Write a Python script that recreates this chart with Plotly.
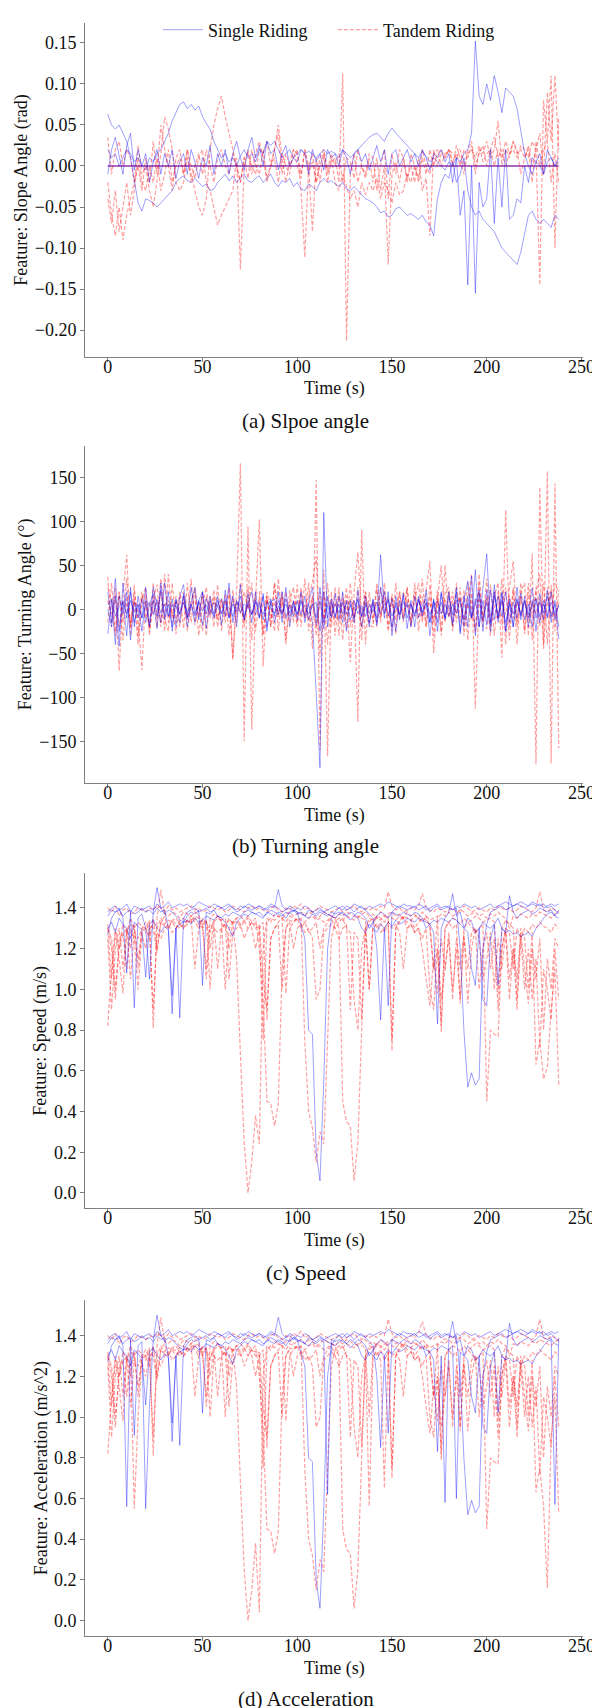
import plotly.graph_objects as go

# ---------------- data ----------------
T = list(range(0, 240, 2))          # time grid (s)
X_TICKS = [0, 50, 100, 150, 200, 250]

# (a) slope angle (rad)
SLOPE_SINGLE = [
    [0.063, 0.05, 0.045, 0.05, 0.04, 0.03, 0.01, -0.02, -0.045, -0.055,
     -0.04, -0.042, -0.045, -0.05, -0.045, -0.04, -0.035, -0.03, -0.02, -0.015,
     -0.012, -0.018, -0.02, -0.015, -0.02, -0.025, -0.022, -0.03, -0.028, -0.02,
     -0.015, -0.01, -0.018, -0.012, -0.02, -0.015, -0.01, -0.018, -0.02, -0.015,
     -0.012, -0.02, -0.015, -0.01, -0.02, -0.025, -0.018, -0.02, -0.015, -0.025,
     -0.02, -0.028, -0.03, -0.022, -0.025, -0.03, -0.02, -0.015, -0.02, -0.018,
     -0.022, -0.025, -0.02, -0.028, -0.03, -0.025, -0.03, -0.035, -0.04, -0.042,
     -0.045, -0.05, -0.057, -0.055, -0.062, -0.06, -0.052, -0.05, -0.055, -0.06,
     -0.058, -0.062, -0.065, -0.06, -0.068, -0.072, -0.085, -0.04, -0.02, -0.01,
     -0.015, 0.005, -0.02, -0.01, 0.01, -0.03, -0.05, -0.06, -0.055, -0.065,
     -0.07, -0.075, -0.08, -0.09, -0.1, -0.105, -0.11, -0.115, -0.12, -0.105,
     -0.08, -0.06, -0.055, -0.065, -0.07, -0.065, -0.07, -0.075, -0.06, -0.065],
    [0.02, 0.01, 0.015, 0.0, 0.01, 0.02, 0.015, 0.005, 0.01, 0.0,
     -0.005, 0.01, 0.005, 0.015, 0.02, 0.03, 0.04, 0.055, 0.065, 0.075,
     0.078, 0.07, 0.075, 0.068, 0.073, 0.06, 0.052, 0.045, 0.03, 0.02,
     0.01, 0.015, 0.005, 0.01, 0.0, 0.012, 0.02, 0.01, 0.015, 0.005,
     0.02, 0.015, 0.03, 0.025, 0.03, 0.02, 0.01, 0.015, 0.02, 0.01,
     0.015, 0.02, 0.015, 0.018, 0.015, 0.01, 0.015, 0.02, 0.015, 0.018,
     0.015, 0.01, 0.02, 0.015, 0.01, 0.015, 0.02, 0.025, 0.03, 0.035,
     0.038, 0.04, 0.035, 0.03, 0.04, 0.046, 0.04, 0.035, 0.03, 0.025,
     0.02, 0.015, 0.01, 0.018, 0.012, 0.005, 0.01, 0.005, 0.0, -0.005,
     0.005, 0.0, 0.01, 0.005, 0.015, 0.02, 0.04, 0.152, 0.085, 0.075,
     0.1, 0.08, 0.11, 0.09, 0.065, 0.095, 0.09, 0.085, 0.07, 0.04,
     0.015, 0.0, -0.01, 0.005, 0.0, -0.01, 0.005, 0.01, 0.0, 0.005],
    [-0.01, 0.02, 0.035, 0.01, -0.01, 0.025, 0.04, -0.005, 0.02, 0.0,
     0.015, -0.02, 0.005, 0.02, -0.01, 0.015, 0.0, 0.02, -0.015, 0.005,
     0.015, -0.01, 0.02, 0.005, -0.015, 0.01, 0.0, 0.025, -0.01, 0.015,
     0.0, 0.02, -0.01, 0.015, 0.03, 0.01, -0.005, 0.02, 0.035, 0.01,
     0.025, 0.0, 0.03, 0.015, 0.02, -0.005, 0.015, 0.025, 0.0, 0.01,
     0.005, 0.02, 0.015, -0.01, 0.02, 0.005, 0.015, -0.005, 0.02, 0.01,
     0.015, 0.0, 0.02, 0.01, -0.01, 0.015, 0.02, 0.005, 0.015, -0.005,
     0.01, 0.025, 0.005, 0.02, -0.01, 0.015, 0.02, 0.0, 0.01, 0.02,
     0.005, 0.015, 0.0, 0.02, 0.01, -0.005, 0.015, 0.01, 0.02, 0.005,
     0.015, -0.02, 0.01, -0.06, -0.03, -0.145, 0.0, -0.155, -0.02, -0.05,
     -0.04, 0.02, -0.07, 0.01, -0.05, 0.02, -0.065, -0.06, -0.04, -0.045,
     0.0, -0.02, 0.01, 0.005, 0.015, -0.01, 0.02, 0.01, 0.0, 0.01],
]
SLOPE_TANDEM = [
    [-0.02, -0.06, -0.085, -0.05, -0.09, -0.06, -0.04, -0.02, 0.0, -0.03,
     0.01, -0.02, 0.03, -0.01, 0.05, 0.02, 0.0, -0.03, 0.01, 0.02,
     -0.01, 0.02, 0.0, -0.015, 0.01, 0.02, -0.02, -0.03, -0.05, -0.072,
     -0.06, -0.05, -0.04, -0.03, 0.01, -0.126, 0.0, 0.02, -0.01, 0.015,
     0.03, 0.01, -0.02, 0.0, 0.02, 0.04, -0.01, 0.015, 0.0, 0.01,
     0.02, -0.03, -0.111, 0.0, -0.08, 0.01, -0.02, 0.015, -0.01, 0.005,
     0.01, -0.02, 0.113, -0.213, -0.01, 0.015, -0.02, 0.0, -0.015, 0.01,
     -0.02, 0.01, -0.03, 0.0, -0.12, -0.01, 0.005, -0.02, 0.01, -0.015,
     0.0, -0.02, 0.01, -0.03, -0.015, -0.085, 0.02, 0.0, 0.015, 0.01,
     0.02, 0.005, 0.015, 0.0, 0.02, 0.01, 0.025, -0.01, 0.02, 0.015,
     0.03, 0.01, 0.02, 0.055, 0.0, 0.02, 0.01, 0.03, 0.015, 0.02,
     0.01, 0.025, 0.0, 0.02, -0.145, 0.08, 0.03, 0.11, -0.1, 0.06],
    [0.035, -0.01, 0.02, 0.03, 0.0, 0.02, 0.01, -0.02, 0.025, -0.01,
     0.0, -0.03, -0.05, -0.02, 0.015, 0.06, 0.045, 0.02, -0.02, -0.03,
     -0.02, 0.01, -0.01, -0.03, -0.05, -0.06, -0.04, 0.02, 0.05, 0.07,
     0.085, 0.06, 0.04, 0.02, 0.0, -0.02, 0.01, 0.015, 0.0, -0.01,
     0.02, 0.015, 0.03, 0.0, 0.02, 0.05, 0.01, -0.02, 0.005, 0.02,
     0.015, -0.01, 0.02, 0.0, 0.015, -0.02, 0.01, 0.02, -0.005, 0.015,
     0.0, 0.015, -0.02, 0.01, 0.005, -0.015, 0.02, 0.0, -0.01, 0.015,
     0.01, -0.03, 0.0, 0.02, -0.04, 0.015, -0.01, 0.02, 0.01, -0.02,
     0.015, 0.0, -0.02, 0.01, -0.01, 0.02, 0.0, 0.015, 0.02, 0.01,
     0.02, 0.015, 0.01, 0.02, 0.0, 0.015, 0.02, 0.01, 0.025, 0.005,
     0.015, 0.02, 0.0, 0.02, 0.01, 0.03, 0.015, 0.02, 0.01, 0.025,
     0.02, 0.01, 0.03, 0.02, 0.04, -0.01, 0.09, 0.03, 0.11, 0.02],
    [-0.04, -0.07, -0.03, -0.08, -0.05, -0.02, -0.06, -0.03, 0.01, -0.02,
     -0.03, 0.0, -0.02, 0.01, -0.03, -0.01, 0.02, -0.02, 0.0, 0.01,
     -0.01, 0.02, -0.02, 0.0, 0.015, -0.01, 0.02, 0.0, -0.02, 0.01,
     0.02, 0.0, -0.01, 0.015, 0.0, -0.02, 0.01, -0.015, 0.02, 0.0,
     -0.01, 0.02, -0.015, 0.0, 0.01, -0.02, 0.015, 0.0, -0.01, 0.02,
     0.0, -0.015, 0.02, -0.01, 0.005, -0.02, 0.0, 0.015, -0.02, 0.01,
     -0.02, -0.03, -0.01, -0.025, -0.04, -0.03, -0.05, -0.02, -0.035, -0.02,
     -0.03, -0.015, -0.04, -0.02, -0.03, -0.045, -0.02, -0.035, -0.03, -0.01,
     -0.02, 0.0, -0.015, 0.02, 0.0, -0.01, 0.015, 0.02, 0.0, 0.015,
     0.02, 0.0, 0.025, 0.01, -0.01, 0.02, 0.03, 0.0, 0.015, 0.025,
     0.0, 0.02, 0.035, 0.01, 0.02, 0.0, 0.015, 0.03, 0.02, -0.01,
     0.01, 0.02, -0.02, 0.03, 0.0, 0.02, 0.03, -0.02, 0.015, -0.02],
]
ZERO_T = [0, 238]
ZERO_V = [0.0, 0.0]

# (b) turning angle (deg)
TURN_SINGLE = [
    [-28, 10, -40, 15, -5, 20, -35, 8, -10, 12,
     -15, 5, 18, -8, 22, -12, 6, -20, 10, -5,
     15, -10, 25, -5, 8, -18, 12, 0, -8, 10,
     -5, 12, -10, 6, -3, 15, -8, 5, 20, -6,
     8, -12, 5, 10, -15, 4, -6, 12, -4, 8,
     -5, 10, -8, 6, -15, -95, -180, 110, -20, 8,
     -10, 15, -5, 8, -12, 4, 10, -8, 5, -15,
     6, -10, 62, -5, 12, -20, 8, -6, 15, -10,
     5, -8, 12, -4, 6, -15, 10, -5, 8, -12,
     15, -6, 20, -25, 10, 32, -8, 12, -20, 25,
     63, -15, 20, -10, 18, -25, 8, -5, 12, -8,
     10, -6, 24, -10, 8, -4, 15, -8, 6, -34],
    [0, -20, 15, -42, 30, -10, 20, -15, 5, -25,
     10, -20, 25, 5, -15, 30, -8, 12, -20, 15,
     28, -10, 5, -15, 10, 20, -5, 15, -10, 5,
     12, -8, 30, -15, 8, 5, -12, 18, -6, 10,
     -10, 15, -20, 8, 12, -6, 20, -10, 5, -8,
     10, -6, 15, -12, 5, 8, -25, 20, -10, 12,
     -8, 6, -15, 10, 5, -10, 12, -20, 8, -5,
     10, -15, 5, 20, -8, 12, -25, 10, -12, 8,
     -20, 15, -10, 5, 12, -30, 8, -15, 20, -10,
     5, -18, 10, 8, -12, 15, -10, 45, -20, 10,
     -18, 22, -12, 15, -8, 20, -15, 8, -10, 18,
     -12, 6, -20, 12, -15, 10, -8, 20, -12, 5],
    [5, 12, -8, 3, 8, -5, 10, -3, 6, -10,
     4, 8, -6, 10, -4, 6, -8, 5, 3, -6,
     8, -4, 6, -8, 10, -2, 5, -6, 8, 3,
     -5, 6, 2, -8, 10, -4, 6, 3, -6, 8,
     4, -6, 8, 2, -5, 10, -3, 6, -8, 4,
     -6, 8, 3, -5, 6, -10, 25, -15, 5, -8,
     6, -4, 8, -6, 3, 10, -5, 4, -8, 6,
     -3, 8, -5, 6, 10, -8, 4, -6, 8, 3,
     6, -5, 10, -3, 8, -6, 4, 9, -5, 6,
     -8, 6, -5, 12, -20, 8, -10, 6, 22, -12,
     8, -25, 15, -8, 10, -15, 6, -20, 10, -6,
     8, -10, 5, 12, -8, 6, -10, 8, -5, 4],
    [20, -15, 35, -25, 10, -30, 25, -20, 15, -10,
     25, -18, 10, -22, 30, -8, 20, -25, 12, -15,
     18, -20, 8, 25, -12, 20, -22, 10, -5, 15,
     -18, 22, -10, 15, -20, 28, -12, 8, -15, 20,
     -10, 18, -25, 12, -8, 20, -15, 25, -20, 10,
     -12, 20, -15, 8, 25, -18, 10, -22, 15, -10,
     18, -12, 20, -25, 10, -15, 22, -8, 15, -20,
     12, -18, 25, -10, 20, -30, 15, -12, 18, -22,
     10, -20, 15, -8, 22, -15, 12, -25, 18, -10,
     20, -15, 25, -28, 15, -20, 38, -30, 18, -25,
     22, -18, 28, -15, 20, -25, 12, -20, 25, -12,
     15, -20, 10, -25, 18, -12, 22, -15, 10, -20],
]
TURN_TANDEM = [
    [37, -20, 25, -70, 15, 62, -30, 20, -10, -69,
     18, -25, 10, 28, -20, 40, -15, 5, -28, 12,
     20, -10, 35, -18, 8, -25, 15, -5, 22, -10,
     12, -8, 25, -55, 20, 166, -150, 94, -137, 10,
     102, -65, 15, -20, 30, -10, 20, -40, 8, 25,
     -15, 20, -10, 30, -45, 147, -160, 45, -167, 20,
     -30, 15, -10, 25, -20, 10, -128, 90, -40, 20,
     -15, 30, -10, 20, -25, 15, -5, 20, -10, 25,
     -20, 10, 30, -15, 20, 55, -50, 15, -25, 50,
     -10, 20, -15, 25, -30, 10, 40, -113, 20, -15,
     35, -20, 15, 30, -55, 113, -20, 25, -40, 20,
     30, -30, 63, -176, 139, -40, 157, -175, 143, -158],
    [25, 10, -30, 20, -15, 35, -20, 10, -40, 15,
     5, -20, 30, -10, 20, -25, 40, -15, 10, -20,
     15, -25, 10, 20, -30, 5, 25, -10, 15, -20,
     10, -15, 20, -58, 10, -5, 20, 0, 30, -25,
     15, -30, 20, 5, -25, 35, -10, 20, -15, 10,
     -20, 25, -10, 15, 30, 60, -55, 20, -40, 10,
     -15, 25, -35, 15, -60, 20, 65, -10, 20, -15,
     10, -20, 25, -5, 15, -25, 30, -10, 20, 5,
     -15, 20, -10, 35, -20, 15, -30, 10, 50, -15,
     20, -25, 15, 10, -20, 30, 5, -25, 40, -10,
     15, -30, 20, -10, 35, -40, 25, 55, -20, 15,
     -25, 30, -10, 20, 40, -45, 25, -10, 30, 20],
    [10, -5, 15, -20, 8, 5, -15, 12, -8, 20,
     -10, 8, -5, 12, -15, 5, 10, -8, 15, -5,
     8, -12, 5, 10, -6, 15, -10, 5, 8, -12,
     5, 10, -8, 12, -5, 8, -15, 10, -6, 12,
     -8, 5, 12, -10, 8, -5, 10, -12, 6, -4,
     10, -8, 5, -12, 15, -20, 8, -10, 12, -5,
     8, -15, 10, -5, 12, -8, 5, -20, 10, 6,
     -10, 8, -5, 12, -8, 10, -12, 6, -5, 10,
     5, -8, 12, -10, 6, 8, -15, 10, -5, 12,
     -8, 10, -5, 15, -10, 6, -12, 8, 10, -15,
     12, -8, 5, -12, 10, -6, 15, -10, 8, -5,
     10, -12, 8, -5, 12, -15, 6, 20, -10, 8],
    [-15, 30, -25, 20, -35, 15, -20, 28, -30, 10,
     25, -30, 15, -20, 35, -10, -25, 30, -15, 20,
     -22, 30, -15, 25, -10, 20, -30, 15, -20, 28,
     -25, 18, -30, 22, -15, 30, -20, 25, -35, 18,
     20, -28, 15, -20, 30, -25, 18, -35, 22, -15,
     28, -20, 35, -25, 15, -30, 20, -15, 30, -20,
     25, -30, 18, -22, 30, -15, 25, -35, 20, -18,
     -20, 25, -15, 30, -22, 18, -28, 20, -15, 25,
     -18, 30, -25, 15, -20, 28, -15, 22, -30, 18,
     25, -20, 30, -15, 22, -35, 18, -25, 30, -20,
     -22, 28, -30, 20, -18, 25, -35, 22, -15, 30,
     -28, 20, -35, 25, -20, 30, -40, 28, -25, 22],
]

# (c) speed (m/s)
SPEED_SINGLE = [
    [1.38, 1.40, 1.41, 1.39, 1.40, 1.42, 1.38, 1.41, 1.40, 1.39,
     1.40, 1.41, 1.39, 1.42, 1.40, 1.41, 1.43, 1.40, 1.41, 1.42,
     1.41, 1.42, 1.40, 1.41, 1.43, 1.42, 1.41, 1.40, 1.42, 1.41,
     1.40, 1.41, 1.42, 1.40, 1.39, 1.41, 1.40, 1.42, 1.41, 1.40,
     1.41, 1.39, 1.40, 1.42, 1.41, 1.40, 1.38, 1.39, 1.41, 1.40,
     1.38, 1.32, 1.25, 0.80, 0.78, 0.20, 0.06, 0.55, 1.20, 1.35,
     1.38, 1.40, 1.41, 1.39, 1.40, 1.42, 1.41, 1.40, 1.39, 1.41,
     1.40, 1.41, 1.42, 1.41, 1.43, 1.42, 1.41, 1.40, 1.42, 1.41,
     1.41, 1.40, 1.42, 1.41, 1.39, 1.40, 1.41, 1.42, 1.40, 1.41,
     1.40, 1.39, 1.41, 1.40, 1.42, 1.41, 1.40, 1.41, 1.39, 1.40,
     1.41, 1.42, 1.40, 1.41, 1.42, 1.43, 1.42, 1.41, 1.42, 1.43,
     1.42, 1.41, 1.43, 1.42, 1.41, 1.42, 1.40, 1.41, 1.39, 1.37],
    [1.27, 1.35, 1.38, 1.39, 1.36, 1.38, 1.39, 1.37, 1.38, 1.40,
     1.38, 1.39, 1.37, 1.40, 1.38, 1.39, 1.30, 0.88, 1.30, 0.86,
     1.35, 1.38, 1.39, 1.40, 1.38, 1.39, 1.40, 1.38, 1.39, 1.41,
     1.40, 1.39, 1.41, 1.40, 1.38, 1.39, 1.41, 1.40, 1.39, 1.40,
     1.41, 1.40, 1.39, 1.41, 1.40, 1.49, 1.41, 1.39, 1.40, 1.38,
     1.40, 1.39, 1.41, 1.40, 1.38, 1.39, 1.40, 1.38, 1.39, 1.40,
     1.41, 1.40, 1.39, 1.41, 1.40, 1.38, 1.40, 1.41, 1.39, 1.37,
     1.35, 1.20, 0.85, 1.30, 0.92, 1.38, 1.40, 1.41, 1.40, 1.39,
     1.40, 1.41, 1.39, 1.40, 1.41, 1.38, 1.40, 1.41, 1.39, 1.40,
     1.41, 1.39, 1.40, 1.20, 0.79, 0.52, 0.59, 0.53, 0.56, 1.20,
     1.32, 1.38, 1.39, 1.40, 1.41, 1.39, 1.40, 1.41, 1.42, 1.41,
     1.40, 1.41, 1.42, 1.41, 1.42, 1.40, 1.41, 1.42, 1.41, 1.42],
    [1.36, 1.39, 1.38, 1.40, 1.35, 1.08, 1.38, 0.91, 1.35, 1.37,
     1.30, 1.05, 1.38, 1.50, 1.40, 1.37, 1.39, 1.38, 1.36, 1.34,
     1.33, 1.36, 1.38, 1.37, 1.39, 1.02, 1.38, 1.37, 1.39, 1.36,
     1.35, 1.33, 1.30, 1.26, 1.33, 1.35, 1.37, 1.36, 1.38, 1.37,
     1.36, 1.35, 1.38, 1.37, 1.36, 1.38, 1.37, 1.35, 1.38, 1.39,
     1.37, 1.38, 1.36, 1.39, 1.38, 1.37, 1.39, 1.38, 1.37, 1.36,
     1.35, 1.37, 1.38, 1.36, 1.34, 1.36, 1.38, 1.37, 1.35, 1.30,
     1.33, 1.36, 1.38, 1.37, 1.35, 1.38, 1.37, 1.36, 1.38, 1.37,
     1.36, 1.38, 1.37, 1.35, 1.30, 1.32, 1.28, 0.83, 1.30, 1.35,
     1.38, 1.47, 1.36, 1.38, 1.30, 1.35, 1.33, 1.28, 1.30, 0.95,
     0.92, 1.25, 1.32, 1.35, 1.30, 1.28, 1.46, 1.38, 1.35, 1.37,
     1.38, 1.39, 1.37, 1.38, 1.40, 1.39, 1.38, 1.39, 1.36, 1.39],
    [1.30, 1.33, 1.28, 1.35, 1.32, 1.30, 1.25, 1.33, 1.31, 1.29,
     1.06, 1.32, 1.34, 1.30, 1.28, 1.31, 1.29, 0.97, 1.30, 1.32,
     1.33, 1.34, 1.32, 1.35, 1.33, 1.34, 1.36, 1.35, 1.34, 1.36,
     1.35, 1.37, 1.36, 1.38, 1.37, 1.36, 1.38, 1.39, 1.38, 1.37,
     1.38, 1.36, 1.37, 1.39, 1.38, 1.37, 1.36, 1.38, 1.37, 1.39,
     1.38, 1.37, 1.36, 1.35, 1.37, 1.36, 1.38, 1.37, 1.36, 1.38,
     1.37, 1.38, 1.37, 1.36, 1.38, 1.37, 1.35, 1.30, 1.28, 1.32,
     1.30, 1.28, 1.32, 1.30, 1.33, 1.31, 1.34, 1.32, 1.33, 1.35,
     1.34, 1.33, 1.35, 1.34, 1.33, 1.32, 1.34, 1.33, 1.35, 1.34,
     1.33, 1.35, 1.34, 1.32, 1.30, 1.28, 1.10, 1.02, 1.30, 1.33,
     1.31, 1.30, 1.32, 1.02, 1.30, 1.28, 1.29, 1.27, 1.28, 1.26,
     1.27, 1.28, 1.26, 1.30, 1.32, 1.35, 1.37, 1.38, 1.36, 1.35],
]
SPEED_TANDEM = [
    [0.82, 1.10, 1.30, 1.20, 1.32, 1.28, 1.35, 1.30, 1.33, 1.31,
     1.30, 1.34, 0.81, 1.35, 1.49, 1.37, 1.36, 1.38, 1.37, 1.35,
     1.38, 1.37, 1.36, 1.38, 1.37, 1.30, 1.10, 1.35, 1.37, 1.36,
     1.34, 1.35, 1.20, 1.33, 1.15, 0.68, 0.25, 0.00, 0.15, 0.38,
     0.24, 1.20, 1.35, 1.33, 1.37, 1.36, 1.35, 1.37, 1.38, 1.36,
     1.37, 1.38, 1.36, 1.38, 1.37, 1.35, 1.36, 1.38, 1.37, 1.36,
     1.35, 1.37, 1.36, 1.38, 1.37, 1.36, 1.35, 1.37, 1.38, 1.36,
     1.37, 1.35, 1.38, 1.36, 1.37, 1.38, 1.36, 1.37, 1.35, 1.38,
     1.36, 1.37, 1.35, 1.38, 1.36, 1.30, 1.10, 1.35, 1.37, 1.36,
     1.38, 1.36, 1.37, 1.39, 1.38, 1.36, 1.37, 1.38, 1.36, 1.37,
     1.35, 1.37, 1.36, 1.38, 1.36, 1.35, 1.30, 1.36, 1.35, 1.37,
     1.36, 1.35, 1.37, 1.36, 1.38, 1.37, 1.36, 1.35, 1.37, 1.38],
    [1.25, 0.90, 1.20, 1.30, 1.10, 1.28, 1.32, 1.30, 1.15, 1.28,
     1.30, 1.25, 1.33, 1.30, 1.35, 1.32, 1.34, 1.33, 1.30, 1.34,
     1.35, 1.33, 1.34, 1.36, 1.35, 1.30, 1.34, 1.20, 1.33, 1.10,
     1.30, 1.32, 1.34, 1.33, 1.35, 1.36, 1.34, 1.30, 1.33, 1.35,
     1.20, 0.95, 0.45, 0.44, 0.33, 0.44, 1.10, 1.30, 1.34, 1.33,
     1.35, 1.34, 1.33, 1.35, 1.36, 1.34, 1.35, 1.33, 1.34, 1.36,
     1.35, 1.30, 0.45, 0.35, 0.33, 0.06, 0.25, 0.80, 1.30, 1.35,
     1.34, 1.36, 1.35, 1.33, 1.36, 1.35, 1.34, 1.36, 1.35, 1.33,
     1.34, 1.30, 1.33, 1.35, 1.34, 1.32, 1.10, 1.20, 0.82, 1.30,
     1.33, 1.30, 1.32, 0.93, 1.30, 1.33, 1.31, 1.28, 1.30, 1.32,
     0.45, 0.80, 0.78, 0.77, 1.20, 1.30, 1.28, 1.10, 1.30, 1.25,
     1.30, 1.28, 1.32, 1.30, 1.33, 1.31, 1.30, 1.28, 1.32, 1.30],
    [1.30, 1.25, 1.00, 1.20, 1.27, 1.30, 1.05, 1.28, 1.25, 1.30,
     1.28, 1.32, 1.30, 1.18, 1.33, 1.31, 1.30, 1.34, 1.32, 1.30,
     1.32, 1.34, 1.33, 1.35, 1.32, 1.34, 1.05, 1.30, 1.33, 1.35,
     1.34, 1.00, 1.30, 1.33, 1.35, 1.32, 1.34, 1.36, 1.33, 1.32,
     1.30, 0.75, 1.33, 1.35, 1.34, 1.36, 1.35, 1.33, 1.36, 1.35,
     1.34, 1.35, 0.74, 0.40, 0.32, 0.15, 0.30, 0.24, 0.80, 1.25,
     1.33, 1.35, 1.34, 1.36, 1.35, 1.34, 1.36, 1.35, 1.34, 1.00,
     1.33, 1.35, 1.34, 1.36, 1.35, 0.70, 1.30, 1.34, 1.36, 1.35,
     1.34, 1.36, 1.35, 1.33, 1.36, 1.34, 1.35, 1.36, 0.79, 1.30,
     1.33, 1.35, 1.34, 1.32, 1.35, 1.33, 1.34, 1.36, 1.35, 1.33,
     1.34, 1.35, 1.33, 0.98, 1.30, 1.34, 1.32, 1.30, 0.95, 1.30,
     1.25, 1.00, 1.28, 0.63, 0.75, 0.56, 0.62, 0.90, 1.10, 0.53],
    [1.32, 1.20, 0.95, 1.25, 1.28, 1.10, 1.30, 1.25, 1.00, 1.27,
     1.20, 1.30, 0.90, 1.28, 1.25, 1.30, 1.32, 1.28, 1.30, 1.33,
     1.30, 1.32, 1.35, 1.10, 1.30, 1.32, 1.34, 1.00, 1.30, 1.28,
     1.30, 1.32, 1.05, 1.28, 1.30, 1.32, 1.25, 1.30, 1.33, 1.30,
     1.32, 1.05, 0.90, 1.25, 1.30, 1.32, 1.00, 1.30, 1.33, 1.20,
     1.30, 1.32, 1.28, 1.30, 1.25, 0.95, 1.00, 1.28, 1.30, 1.32,
     1.30, 1.25, 1.30, 1.32, 0.90, 1.28, 1.25, 0.85, 1.30, 1.00,
     1.30, 1.32, 1.28, 1.30, 1.33, 1.30, 1.32, 1.28, 1.10, 1.30,
     1.32, 1.28, 1.30, 1.25, 1.30, 1.00, 0.90, 1.20, 0.95, 1.10,
     1.25, 1.00, 1.20, 0.95, 1.25, 1.10, 1.28, 1.30, 1.00, 1.20,
     1.28, 1.10, 1.25, 0.90, 1.20, 1.30, 1.05, 1.20, 0.90, 1.25,
     1.00, 1.20, 0.95, 1.15, 0.72, 1.10, 1.00, 0.85, 1.20, 0.95],
    [1.40, 1.38, 1.41, 1.36, 1.39, 1.40, 1.37, 1.38, 1.40, 1.39,
     1.38, 1.40, 1.39, 1.41, 1.40, 1.38, 1.41, 1.39, 1.40, 1.38,
     1.39, 1.40, 1.41, 1.39, 1.40, 1.38, 1.39, 1.41, 1.40, 1.39,
     1.40, 1.38, 1.39, 1.41, 1.40, 1.39, 1.38, 1.40, 1.41, 1.39,
     1.40, 1.39, 1.38, 1.40, 1.41, 1.39, 1.38, 1.40, 1.39, 1.41,
     1.40, 1.42, 1.39, 1.40, 1.38, 1.39, 1.41, 1.40, 1.39, 1.38,
     1.39, 1.40, 1.38, 1.39, 1.40, 1.41, 1.39, 1.38, 1.40, 1.39,
     1.40, 1.39, 1.41, 1.40, 1.48, 1.41, 1.39, 1.40, 1.38, 1.39,
     1.40, 1.39, 1.41, 1.47, 1.40, 1.39, 1.38, 1.40, 1.39, 1.38,
     1.39, 1.40, 1.38, 1.39, 1.41, 1.40, 1.38, 1.39, 1.40, 1.39,
     1.38, 1.40, 1.39, 1.41, 1.40, 1.39, 1.40, 1.38, 1.39, 1.41,
     1.40, 1.39, 1.38, 1.40, 1.48, 1.39, 1.38, 1.40, 1.39, 1.38],
    [1.30, 1.05, 1.28, 1.15, 0.98, 1.30, 1.20, 1.32, 1.10, 1.30,
     1.33, 1.28, 1.35, 1.20, 1.33, 1.36, 1.30, 1.34, 1.35, 1.32,
     1.30, 1.34, 1.36, 1.33, 1.30, 1.35, 1.33, 1.28, 1.34, 1.36,
     1.33, 1.30, 1.35, 1.32, 1.34, 1.30, 1.33, 1.35, 1.30, 1.20,
     1.30, 1.33, 0.85, 1.25, 1.30, 1.33, 1.35, 0.98, 1.30, 1.33,
     1.35, 1.30, 1.33, 1.28, 1.30, 1.33, 1.20, 1.30, 1.33, 1.35,
     1.30, 1.33, 1.35, 1.30, 1.28, 0.95, 0.80, 1.20, 1.30, 1.33,
     1.35, 1.30, 1.33, 1.28, 1.32, 0.75, 1.30, 1.33, 1.35, 1.30,
     1.32, 1.28, 1.30, 1.20, 1.05, 0.92, 1.15, 0.98, 1.25, 1.10,
     1.28, 0.95, 1.25, 1.10, 1.28, 0.93, 1.20, 1.30, 1.25, 1.05,
     1.15, 1.28, 1.00, 1.25, 1.10, 1.28, 0.95, 1.20, 1.05, 1.28,
     1.10, 0.93, 1.20, 1.05, 1.25, 0.80, 1.15, 1.00, 1.25, 1.20],
]

# (d) acceleration: same traces as speed, with the extra dips seen in panel (d)
ACCEL_SINGLE_EDITS = {2: {10: 0.56, 20: 0.55, 178: 0.58, 236: 0.57},
                      3: {116: 0.62, 184: 0.60}}
ACCEL_TANDEM_EDITS = {0: {80: 0.04},
                      2: {232: 0.16},
                      3: {14: 0.55, 138: 0.56, 146: 0.65}}


def with_edits(series_list, edits):
    out = []
    for i, s in enumerate(series_list):
        s2 = list(s)
        for t, v in edits.get(i, {}).items():
            s2[T.index(t)] = v
        out.append(s2)
    return out


ACCEL_SINGLE = with_edits(SPEED_SINGLE, ACCEL_SINGLE_EDITS)
ACCEL_TANDEM = with_edits(SPEED_TANDEM, ACCEL_TANDEM_EDITS)

# ---------------- figure ----------------
FONT = "Liberation Serif"
BLUE = "rgba(0,0,255,0.38)"
RED = "rgba(255,0,0,0.38)"
W, H = 600, 1708

panels = [
    dict(single=SLOPE_SINGLE, tandem=SLOPE_TANDEM, zero=True,
         top=15, bottom=349, rng=[-0.2327, 0.1742],
         yt=[0.15, 0.10, 0.05, 0.00, -0.05, -0.10, -0.15, -0.20],
         ytxt=["0.15", "0.10", "0.05", "0.00", "\u22120.05", "\u22120.10", "\u22120.15", "\u22120.20"],
         ytitle="Feature: Slope Angle (rad)", yx=13, cap="(a) Slpoe angle", capy=413),
    dict(single=TURN_SINGLE, tandem=TURN_TANDEM, zero=False,
         top=438, bottom=775, rng=[-197.4, 185.6],
         yt=[150, 100, 50, 0, -50, -100, -150],
         ytxt=["150", "100", "50", "0", "\u221250", "\u2212100", "\u2212150"],
         ytitle="Feature: Turning Angle (\u00b0)", yx=18, cap="(b) Turning angle", capy=838),
    dict(single=SPEED_SINGLE, tandem=SPEED_TANDEM, zero=False,
         top=865, bottom=1200, rng=[-0.0737, 1.5717],
         yt=[0.0, 0.2, 0.4, 0.6, 0.8, 1.0, 1.2, 1.4],
         ytxt=["0.0", "0.2", "0.4", "0.6", "0.8", "1.0", "1.2", "1.4"],
         ytitle="Feature: Speed (m/s)", yx=33, cap="(c) Speed", capy=1265),
    dict(single=ACCEL_SINGLE, tandem=ACCEL_TANDEM, zero=False,
         top=1292, bottom=1628, rng=[-0.0756, 1.5747],
         yt=[0.0, 0.2, 0.4, 0.6, 0.8, 1.0, 1.2, 1.4],
         ytxt=["0.0", "0.2", "0.4", "0.6", "0.8", "1.0", "1.2", "1.4"],
         ytitle="Feature: Acceleration (m/s^2)", yx=34, cap="(d) Acceleration", capy=1691),
]

fig = go.Figure()
XL, XR = 78.7, 587.0
annotations = []
legend_done = {"s": False, "t": False}

for k, p in enumerate(panels):
    ax = "" if k == 0 else str(k + 1)
    xref, yref = "x" + ax, "y" + ax
    for s in p["tandem"]:
        fig.add_trace(go.Scatter(x=T[:len(s)], y=s, mode="lines", xaxis=xref, yaxis=yref,
                                 line=dict(color=RED, width=1.2, dash="4px,2px"),
                                 name="Tandem Riding", legendgroup="t", legendrank=2,
                                 showlegend=not legend_done["t"], hoverinfo="skip"))
        legend_done["t"] = True
    for s in p["single"]:
        fig.add_trace(go.Scatter(x=T[:len(s)], y=s, mode="lines", xaxis=xref, yaxis=yref,
                                 line=dict(color=BLUE, width=1.0),
                                 name="Single Riding", legendgroup="s", legendrank=1,
                                 showlegend=not legend_done["s"], hoverinfo="skip"))
        legend_done["s"] = True
    if p["zero"]:
        fig.add_trace(go.Scatter(x=ZERO_T, y=ZERO_V, mode="lines", xaxis=xref, yaxis=yref,
                                 line=dict(color="rgba(0,0,255,0.6)", width=1.3),
                                 showlegend=False, hoverinfo="skip"))
        fig.add_trace(go.Scatter(x=ZERO_T, y=ZERO_V, mode="lines", xaxis=xref, yaxis=yref,
                                 line=dict(color="rgba(255,0,0,0.5)", width=1.0),
                                 showlegend=False, hoverinfo="skip"))

    dom_y = [1 - p["bottom"] / H, 1 - p["top"] / H]
    axis_common = dict(showgrid=False, zeroline=False, showline=True, linecolor="#808080",
                       linewidth=1.2, ticks="outside", ticklen=4, tickwidth=1.2,
                       tickcolor="#808080", tickfont=dict(family=FONT, size=18, color="#111"))
    fig.layout["xaxis" + ax] = dict(domain=[XL / W, XR / W], anchor=yref,
                                    range=[-11.95, 250.95], tickvals=X_TICKS,
                                    ticktext=[str(v) for v in X_TICKS],
                                    ticklabelstandoff=-11, **axis_common)
    fig.layout["yaxis" + ax] = dict(domain=dom_y, anchor=xref, range=p["rng"],
                                    tickvals=p["yt"], ticktext=p["ytxt"], **axis_common)

    b = p["bottom"]
    annotations.append(dict(text="Time (s)", x=(XL + XR) / 2 / W, y=1 - (b + 32) / H,
                            xref="paper", yref="paper", xanchor="center", yanchor="middle",
                            showarrow=False, font=dict(family=FONT, size=18, color="#111")))
    annotations.append(dict(text=p["cap"], x=304 / W, y=1 - p["capy"] / H,
                            xref="paper", yref="paper", xanchor="center", yanchor="middle",
                            showarrow=False, borderpad=0,
                            font=dict(family=FONT, size=21, color="#111")))
    annotations.append(dict(text=p["ytitle"], x=p["yx"] / W, y=1 - (p["top"] + b) / 2 / H,
                            xref="paper", yref="paper", xanchor="center", yanchor="middle",
                            textangle=-90, showarrow=False,
                            font=dict(family=FONT, size=18, color="#111")))

fig.update_layout(
    width=W, height=H, autosize=False,
    margin=dict(l=0, r=0, t=0, b=0),
    paper_bgcolor="white", plot_bgcolor="white",
    annotations=annotations,
    showlegend=True,
    legend=dict(orientation="h", x=153 / W, y=1 - 22 / H, xanchor="left", yanchor="middle",
                font=dict(family=FONT, size=18, color="#111"), bgcolor="rgba(0,0,0,0)",
                traceorder="normal", entrywidth=120, itemwidth=40),
)

fig.write_html("out.html")
